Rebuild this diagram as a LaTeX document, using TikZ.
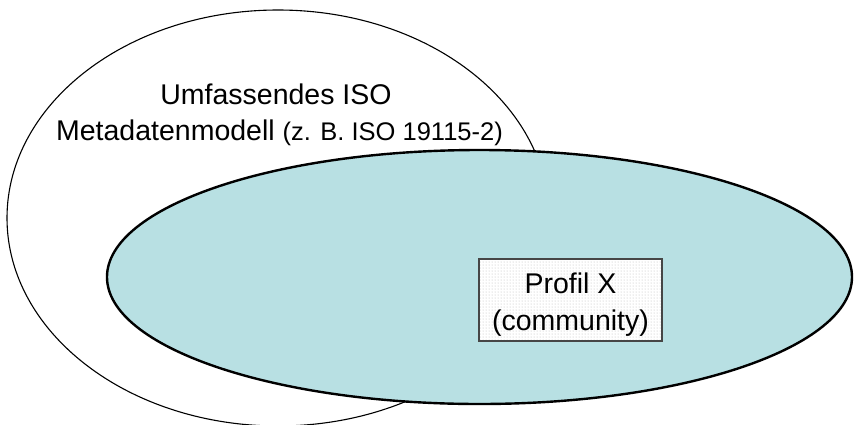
\documentclass[tikz,border=0pt]{standalone}
\usepackage{fontspec}
\setmainfont{Liberation Sans}
\usetikzlibrary{shapes.geometric,patterns}
\definecolor{cyanfill}{RGB}{184,224,227}
\definecolor{boxline}{RGB}{70,70,70}
\newcommand{\smallpartfont}{\fontsize{25.5}{30}\selectfont}
\tikzset{
  bigell/.style={ellipse, draw=black, line width=1.1pt, fill=white, inner sep=0pt},
  cyanell/.style={ellipse, draw=black, line width=2.4pt, fill=cyanfill, inner sep=0pt},
  profbox/.style={rectangle, draw=boxline, line width=1.6pt, pattern=dots, pattern color=gray!55, inner sep=0pt},
  bigtxt/.style={font=\fontsize{28.5}{34}\selectfont, inner sep=0pt, anchor=base}
}
\begin{document}
\begin{tikzpicture}[x=1pt,y=-1pt]
\useasboundingbox (0,0) rectangle (855,424);
\clip (0,0) rectangle (855,424);
\node[bigell, minimum width=542pt, minimum height=416pt] (big) at (278,218) {};
\node[cyanell, minimum width=745pt, minimum height=254pt] (prof) at (479.5,277) {};
\node[rectangle, fill=white, minimum width=183pt, minimum height=82pt, inner sep=0pt] (boxbg) at (570.5,300) {};
\node[profbox, minimum width=183pt, minimum height=82pt] (box) at (570.5,300) {};
\node[bigtxt] (t1) at (276,104) {Umfassendes ISO};
\node[bigtxt, anchor=base east] (t2) at (503,140) {Metadatenmodell {\smallpartfont(z. B. ISO 19115-2)}};
\node[bigtxt] (p1) at (570.5,293) {Profil X};
\node[bigtxt] (p2) at (570.5,330) {(community)};
\end{tikzpicture}
\end{document}
